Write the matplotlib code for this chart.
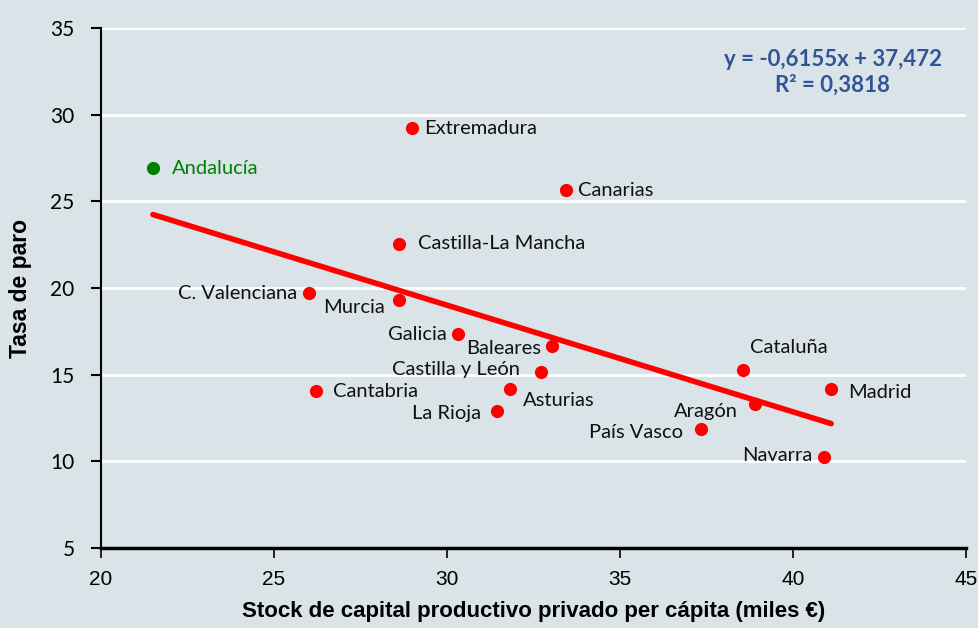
import numpy as np
import matplotlib.pyplot as plt

# Stock de capital productivo privado per cápita (miles €) vs tasa de paro
regiones = ["Extremadura", "Canarias", "Castilla-La Mancha", "C. Valenciana", "Murcia",
            "Galicia", "Baleares", "Castilla y León", "Asturias", "Cantabria", "La Rioja",
            "Cataluña", "Madrid", "Aragón", "País Vasco", "Navarra"]
capital = [28.99, 33.44, 28.61, 26.01, 28.61, 30.32, 33.03, 32.72, 31.82, 26.21, 31.45,
           38.55, 41.10, 38.90, 37.34, 40.90]
paro = [29.23, 25.65, 22.54, 19.71, 19.30, 17.34, 16.65, 15.15, 14.17, 14.05, 12.90,
        15.27, 14.17, 13.30, 11.86, 10.25]

andalucia_x = 21.50
andalucia_y = 26.92

pendiente = -0.6155
ordenada = 37.472
r2 = 0.3818

# label offsets in pixels (dx, dy, ha)
offsets = {
    "Extremadura": (12, 0, "left"),
    "Canarias": (12, 0, "left"),
    "Castilla-La Mancha": (19, 0, "left"),
    "C. Valenciana": (-12, 0, "right"),
    "Murcia": (-14, -7, "right"),
    "Galicia": (-11, 0, "right"),
    "Baleares": (-11, -2, "right"),
    "Castilla y León": (-21, 3, "right"),
    "Asturias": (13, -11, "left"),
    "Cantabria": (17, 0, "left"),
    "La Rioja": (-16, -2, "right"),
    "Cataluña": (7, 22, "left"),
    "Madrid": (17, -3, "left"),
    "Aragón": (-17, -7, "right"),
    "País Vasco": (-18, -3, "right"),
    "Navarra": (-12, 1, "right"),
}

bg = "#d9e3e8"
label_font = ["Lato", "DejaVu Sans"]
arial = ["Liberation Sans", "DejaVu Sans"]

fig = plt.figure(figsize=(9.79, 6.28), dpi=100, facecolor=bg)
ax = fig.add_axes([0.1032, 0.1274, 0.8837, 0.828])
ax.set_facecolor(bg)

ax.set_xlim(20, 45)
ax.set_ylim(5, 35)
ax.set_xticks(np.arange(20, 46, 5))
ax.set_yticks(np.arange(5, 36, 5))

ax.grid(axis="y", color="white", linewidth=2)
ax.set_axisbelow(True)
for s in ["top", "right"]:
    ax.spines[s].set_visible(False)
ax.spines["left"].set_linewidth(1.5)
ax.spines["bottom"].set_linewidth(2.5)

ax.tick_params(axis="y", direction="out", length=7, width=1.5, pad=12, labelsize=15)
ax.tick_params(axis="x", direction="out", length=7, width=1.2, pad=9, labelsize=15)
for t in ax.get_yticklabels():
    t.set_family(label_font)
for t in ax.get_xticklabels():
    t.set_family(arial)

# trend line over the range of the data
xs = np.array([min(capital + [andalucia_x]), max(capital + [andalucia_x])])
ax.plot(xs, pendiente * xs + ordenada, color="#ff0000", linewidth=4,
        solid_capstyle="round", zorder=2)

ax.scatter(capital, paro, s=90, color="#ff0000", zorder=3, linewidths=0)
ax.scatter([andalucia_x], [andalucia_y], s=90, color="#008000", zorder=3, linewidths=0)

for name, x, y in zip(regiones, capital, paro):
    dx, dy, ha = offsets[name]
    ax.annotate(name, (x, y), xytext=(dx, dy), textcoords="offset pixels",
                ha=ha, va="center", fontsize=14.5, family=label_font, color="#111111")
ax.annotate("Andalucía", (andalucia_x, andalucia_y), xytext=(19, 0),
            textcoords="offset pixels", ha="left", va="center", fontsize=14.5,
            family=label_font, color="#008000")

eq = "y = -{:.4f}x + {:.3f}".format(-pendiente, ordenada).replace(".", ",")
ax.text(0.846, 0.915, eq + "\nR² = {:.4f}".format(r2).replace(".", ","),
        transform=ax.transAxes, ha="center", va="center", fontsize=16,
        fontweight="bold", color="#2f5597", family=label_font, linespacing=1.25)

ax.set_xlabel("Stock de capital productivo privado per cápita (miles €)",
              fontsize=16, fontweight="bold", family=arial, va="center")
ax.xaxis.set_label_coords(0.5, -0.123)
ax.set_ylabel("Tasa de paro", fontsize=16.5, fontweight="bold",
              family=arial, va="center", ha="center")
ax.yaxis.set_label_coords(-0.0936, 0.5)

fig.savefig("out.png", dpi=100, facecolor=bg)
